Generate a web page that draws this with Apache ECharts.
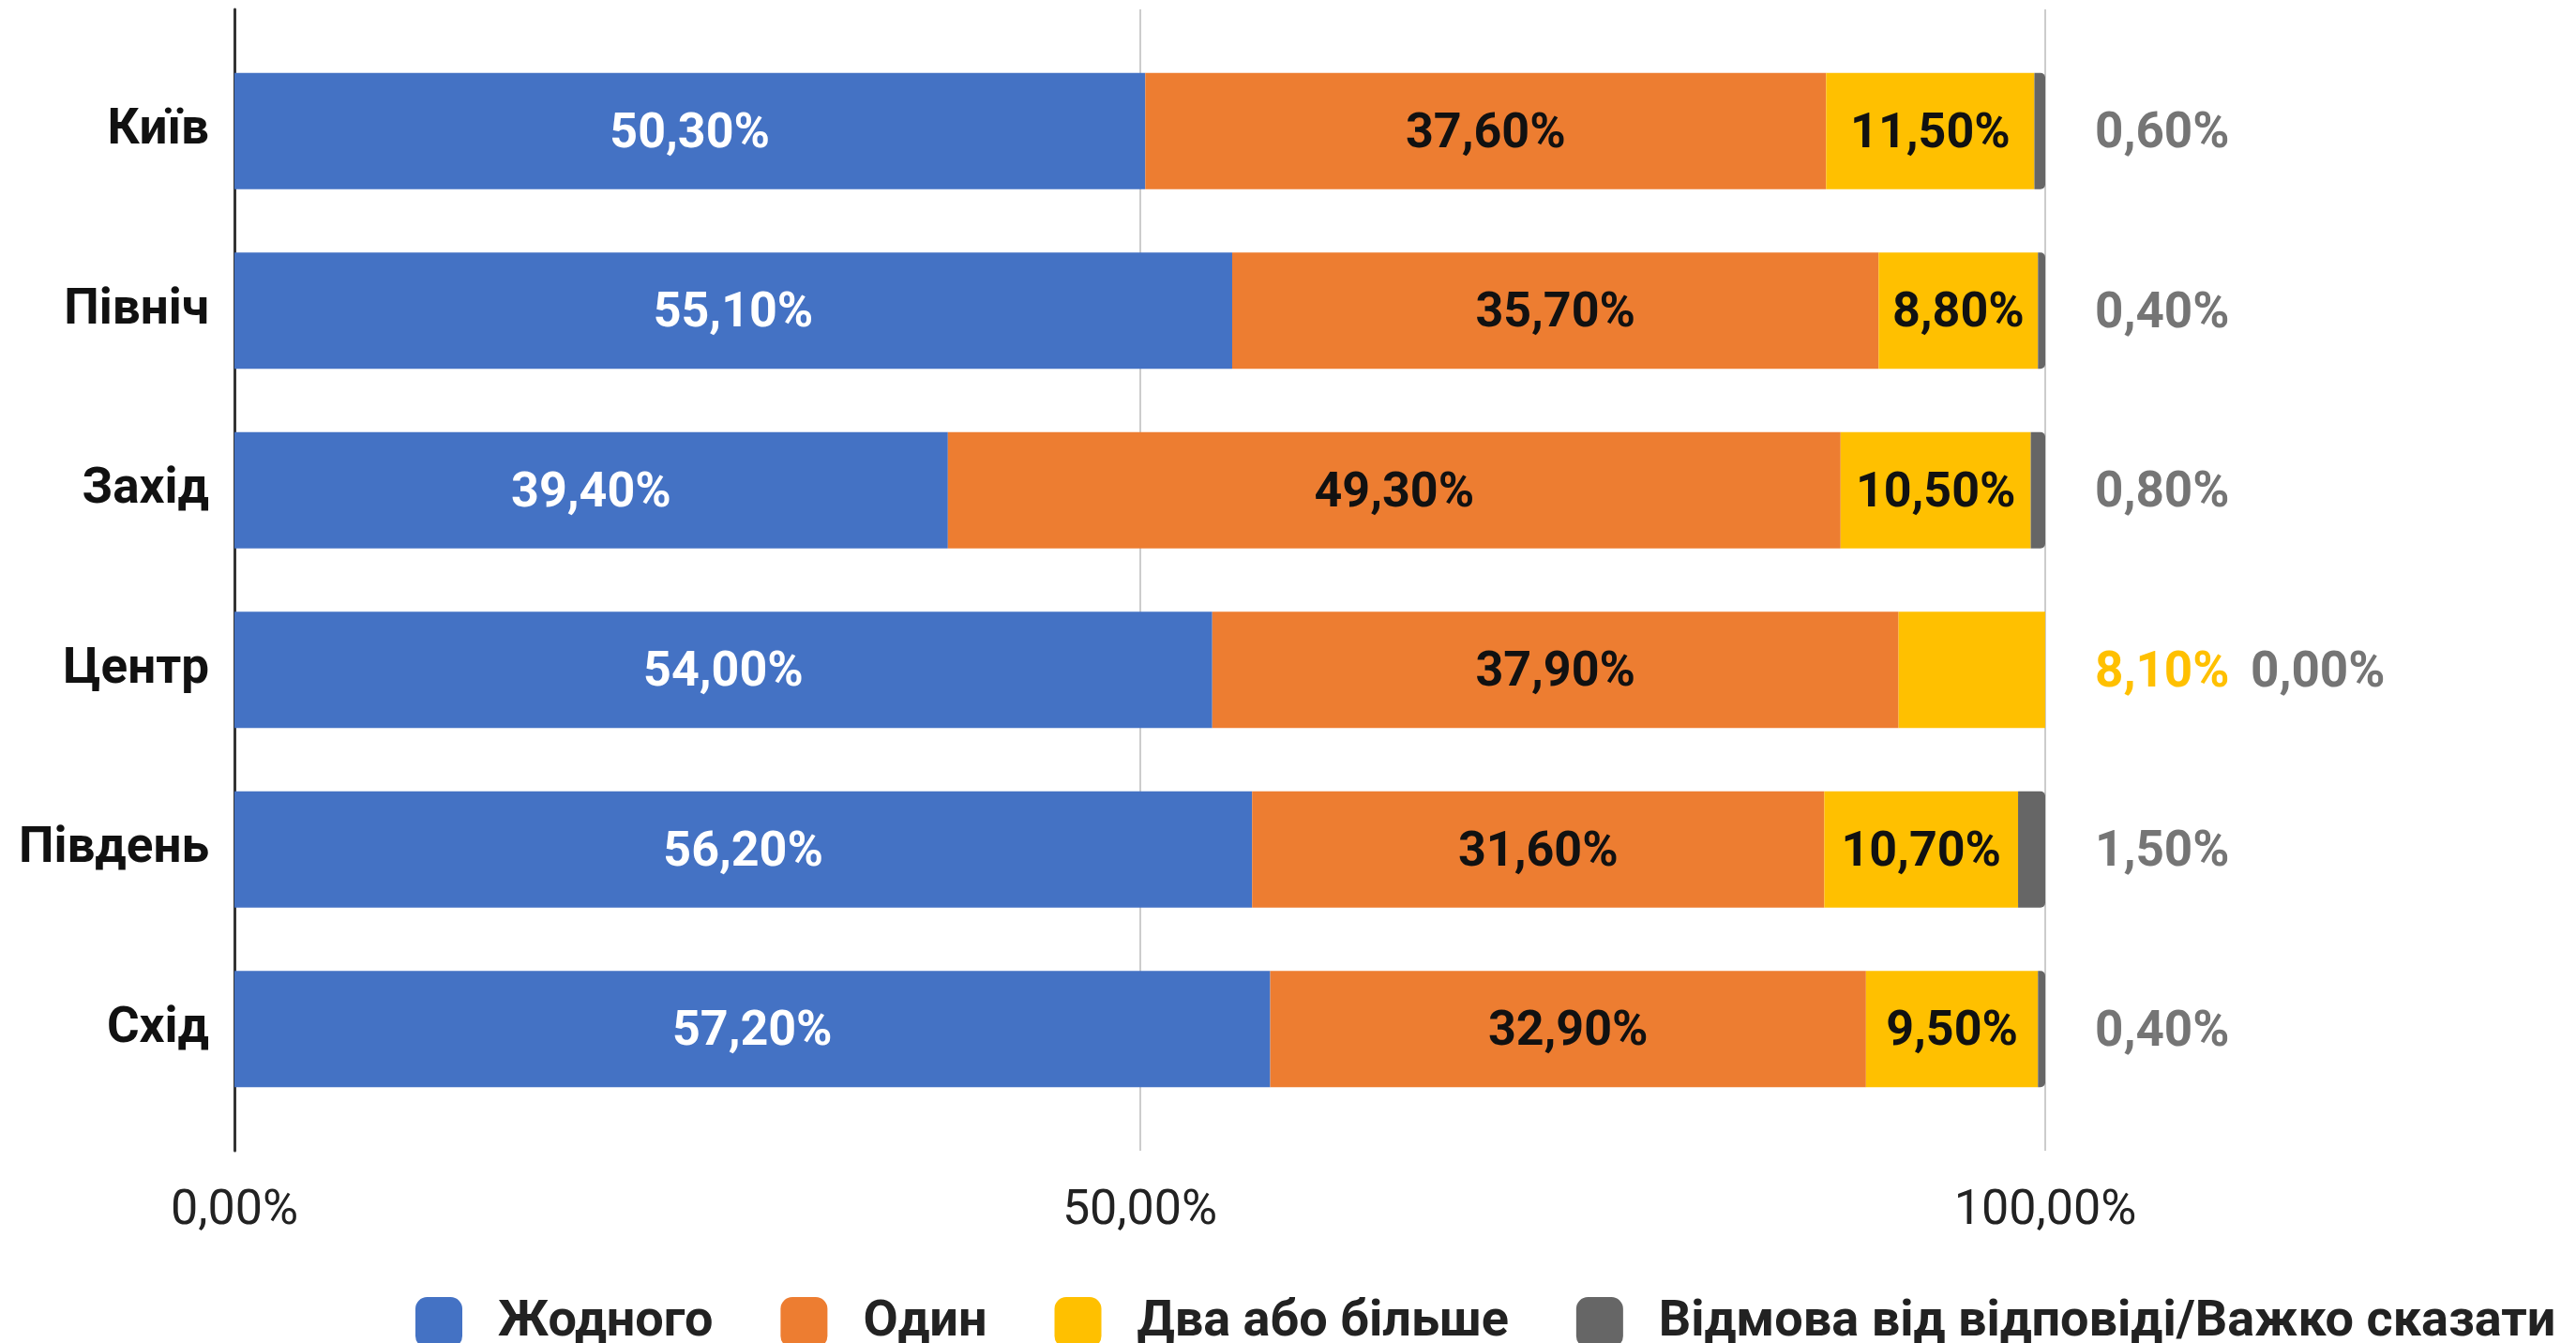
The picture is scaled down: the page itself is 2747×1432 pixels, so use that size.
<!DOCTYPE html>
<html>
<head>
<meta charset="utf-8">
<script src="https://cdn.jsdelivr.net/npm/echarts@6/dist/echarts.min.js"></script>
<style>
html,body{margin:0;padding:0;background:#fff;}
#chart{width:2747px;height:1432px;}
</style>
</head>
<body>
<div id="chart"></div>
<script>
// ---- data ----
const categories = ['Київ', 'Північ', 'Захід', 'Центр', 'Південь', 'Схід'];
const seriesNames = ['Жодного', 'Один', 'Два або більше', 'Відмова від відповіді/Важко сказати'];
const noneVals = [50.3, 55.1, 39.4, 54.0, 56.2, 57.2];
const oneVals = [37.6, 35.7, 49.3, 37.9, 31.6, 32.9];
const twoPlusVals = [11.5, 8.8, 10.5, 8.1, 10.7, 9.5];
const refusedVals = [0.6, 0.4, 0.8, 0.0, 1.5, 0.4];
const xTickValues = [0, 50, 100];
const xTickLabels = ['0,00%', '50,00%', '100,00%'];

// ---- styling ----
const colors = ['#4472C4', '#ED7D31', '#FFC000', '#666666'];
const FONT = 'Roboto';
const fmt = v => v.toFixed(2).replace('.', ',') + '%';
const OUTSIDE_THRESHOLD = 8.5; // labels of narrower segments are drawn outside the bar

const allVals = [noneVals, oneVals, twoPlusVals, refusedVals];
const labelColors = ['#ffffff', '#111111', '#111111', '#757575'];

const series = allVals.map((vals, si) => {
  const last = si === allVals.length - 1;
  const data = vals.map((v, ci) => {
    const item = { value: v };
    if (!last && si === 2 && v < OUTSIDE_THRESHOLD) {
      item.label = { position: 'right', distance: 53, color: colors[2], fontSize: 53 };
    }
    if (last) {
      const prevOutside = twoPlusVals[ci] < OUTSIDE_THRESHOLD;
      item.label = { position: 'right', distance: prevOutside ? 219 : 53 };
    }
    return item;
  });
  return {
    name: seriesNames[si],
    type: 'bar',
    stack: 'total',
    xAxisIndex: 0,
    yAxisIndex: 0,
    barWidth: 124,
    itemStyle: { color: colors[si], borderRadius: last ? [0, 5, 5, 0] : 0 },
    label: {
      show: true,
      position: last ? 'right' : 'inside',
      distance: 53,
      offset: [0, 4],
      formatter: p => fmt(p.value),
      color: labelColors[si],
      fontFamily: FONT,
      fontWeight: 'bold',
      fontSize: last ? 53 : 52
    },
    emphasis: { disabled: true },
    data: data
  };
});

const chart = echarts.init(document.getElementById('chart'), null, { renderer: 'canvas' });
chart.setOption({
  backgroundColor: '#ffffff',
  animation: false,
  color: colors,
  textStyle: { fontFamily: FONT },
  grid: [
    { left: 250, right: 566, top: 44, bottom: 239 },
    { left: 250, right: 566, top: 10, bottom: 205 }
  ],
  xAxis: [
    { type: 'value', gridIndex: 0, min: 0, max: 100, interval: 50, show: false },
    {
      type: 'value', gridIndex: 1, min: 0, max: 100, interval: 50,
      axisLine: { show: false }, axisTick: { show: false },
      splitLine: { show: true, lineStyle: { color: '#cccccc', width: 2 } },
      axisLabel: {
        margin: 39, fontSize: 52, color: '#222222', fontFamily: FONT,
        formatter: v => xTickLabels[xTickValues.indexOf(v)]
      }
    }
  ],
  yAxis: [
    {
      type: 'category', gridIndex: 0, data: categories, inverse: true,
      axisLine: { show: false }, axisTick: { show: false }, splitLine: { show: false },
      axisLabel: { margin: 27, fontSize: 53, fontWeight: 'bold', color: '#111111', fontFamily: FONT,
        padding: [8, 0, 0, 0] }
    },
    {
      type: 'value', gridIndex: 1, min: 0, max: 1,
      axisLine: { show: true, lineStyle: { color: '#333333', width: 3 } },
      axisTick: { show: false }, axisLabel: { show: false }, splitLine: { show: false }
    }
  ],
  legend: {
    left: 438, top: 1378,
    itemWidth: 50, itemHeight: 54, itemGap: 72,
    icon: 'roundRect',
    textStyle: { fontSize: 54, fontWeight: 'bold', color: '#222222', fontFamily: FONT, padding: [0, 0, 0, 33] },
    data: seriesNames
  },
  series: series
});
</script>
</body>
</html>
